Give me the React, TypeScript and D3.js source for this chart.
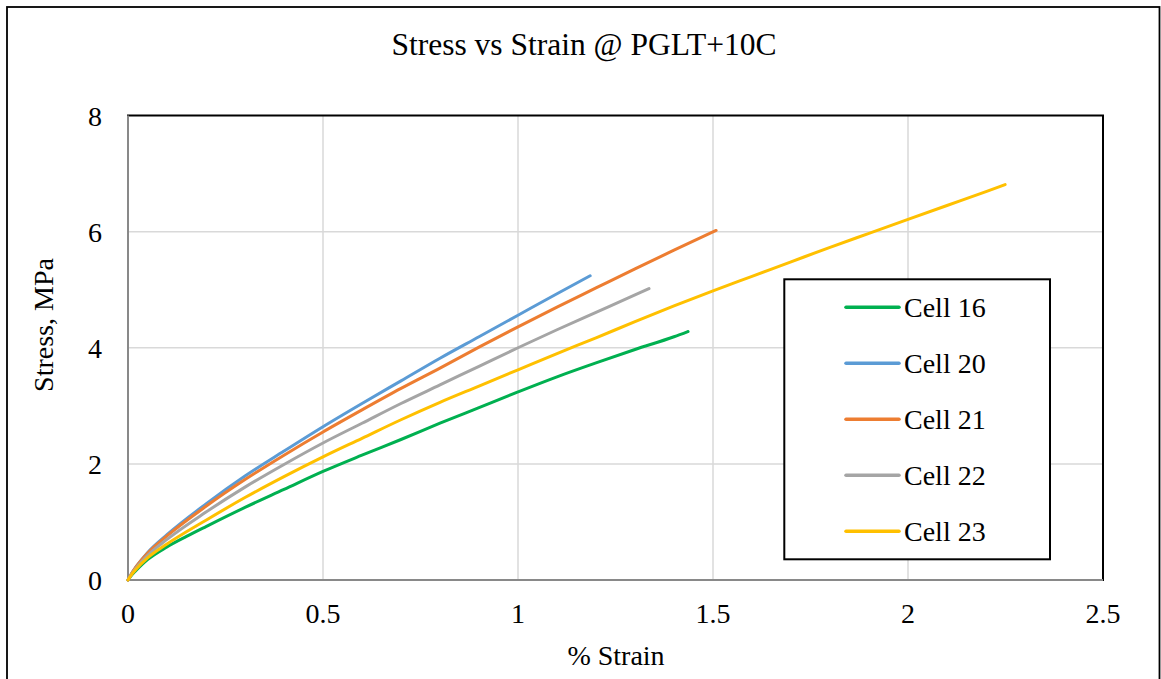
import React from "react";
import * as d3 from "d3";

const seriesNames = ["Cell 16", "Cell 20", "Cell 21", "Cell 22", "Cell 23"];
const seriesColors = ["#00b050", "#5b9bd5", "#ed7d31", "#a5a5a5", "#ffc000"];

const cell16Strain = [0, 0.01, 0.02, 0.05, 0.1, 0.15, 0.2, 0.3, 0.4, 0.5, 0.6, 0.7, 0.8, 0.9, 1.0, 1.1, 1.2, 1.3, 1.4, 1.436];
const cell16Stress = [0, 0.09, 0.16, 0.35, 0.57, 0.75, 0.92, 1.25, 1.56, 1.87, 2.15, 2.42, 2.7, 2.97, 3.24, 3.5, 3.74, 3.97, 4.19, 4.28];

const cell20Strain = [0, 0.01, 0.02, 0.05, 0.1, 0.2, 0.3, 0.4, 0.5, 0.6, 0.7, 0.8, 0.9, 1.0, 1.1, 1.185];
const cell20Stress = [0, 0.12, 0.22, 0.47, 0.78, 1.31, 1.79, 2.22, 2.64, 3.04, 3.43, 3.82, 4.19, 4.56, 4.93, 5.24];

const cell21Strain = [0, 0.01, 0.02, 0.05, 0.1, 0.2, 0.3, 0.4, 0.5, 0.6, 0.7, 0.8, 0.9, 1.0, 1.1, 1.2, 1.3, 1.4, 1.508];
const cell21Stress = [0, 0.12, 0.22, 0.46, 0.76, 1.27, 1.73, 2.15, 2.55, 2.93, 3.3, 3.65, 4.01, 4.36, 4.7, 5.03, 5.36, 5.68, 6.02];

const cell22Strain = [0, 0.01, 0.02, 0.05, 0.1, 0.2, 0.3, 0.4, 0.5, 0.6, 0.7, 0.8, 0.9, 1.0, 1.1, 1.2, 1.3, 1.336];
const cell22Stress = [0, 0.11, 0.2, 0.42, 0.7, 1.17, 1.6, 1.99, 2.36, 2.7, 3.04, 3.36, 3.68, 4.0, 4.31, 4.61, 4.91, 5.02];

const cell23Strain = [0, 0.01, 0.02, 0.05, 0.1, 0.2, 0.3, 0.4, 0.5, 0.6, 0.7, 0.8, 0.9, 1.0, 1.1, 1.2, 1.3, 1.4, 1.5, 1.6, 1.7, 1.8, 1.9, 2.0, 2.1, 2.2, 2.249];
const cell23Stress = [0, 0.1, 0.18, 0.38, 0.62, 1.03, 1.42, 1.78, 2.12, 2.44, 2.76, 3.06, 3.34, 3.62, 3.9, 4.17, 4.45, 4.72, 4.98, 5.23, 5.48, 5.73, 5.97, 6.21, 6.45, 6.69, 6.81];

const xTicks = [0, 0.5, 1, 1.5, 2, 2.5];
const yTicks = [0, 2, 4, 6, 8];

const allStrain = [cell16Strain, cell20Strain, cell21Strain, cell22Strain, cell23Strain];
const allStress = [cell16Stress, cell20Stress, cell21Stress, cell22Stress, cell23Stress];

const FONT = "Liberation Serif, Times New Roman, serif";

export default function App() {
  const W = 1161;
  const H = 679;
  const left = 128;
  const right = 1103;
  const top = 115.5;
  const bottom = 580;

  const x = d3.scaleLinear().domain([0, 2.5]).range([left, right]);
  const y = d3.scaleLinear().domain([0, 8]).range([bottom, top]);

  const line = d3
    .line<[number, number]>()
    .x((d) => x(d[0]))
    .y((d) => y(d[1]))
    .curve(d3.curveMonotoneX);

  const series = seriesNames.map((name, i) => ({
    name,
    color: seriesColors[i],
    pts: allStrain[i].map((s, j) => [s, allStress[i][j]] as [number, number]),
  }));

  const legX = 784.3;
  const legY = 279.3;
  const legW = 265.7;
  const legH = 280;

  return (
    <svg
      width={W}
      height={H}
      style={{ position: "absolute", left: 0, top: 0, background: "#fff" }}
    >
      <rect x={0} y={0} width={W} height={H} fill="#fff" />
      <rect x={7} y={7} width={1152.5} height={700} fill="none" stroke="#000" strokeWidth={1.8} />

      <text x={584} y={55} textAnchor="middle" fontSize={31.5} fill="#000" fontFamily={FONT}>
        Stress vs Strain @ PGLT+10C
      </text>

      {yTicks.filter((t) => t > 0 && t < 8).map((t) => (
        <line key={"gy" + t} x1={left} x2={right} y1={y(t)} y2={y(t)} stroke="#d9d9d9" strokeWidth={1.5} />
      ))}
      {xTicks.filter((t) => t > 0 && t < 2.5).map((t) => (
        <line key={"gx" + t} x1={x(t)} x2={x(t)} y1={top} y2={bottom} stroke="#d9d9d9" strokeWidth={1.5} />
      ))}

      <rect x={left} y={top} width={right - left} height={bottom - top} fill="none" stroke="#000" strokeWidth={2} />
      <line x1={left} x2={left} y1={top} y2={bottom} stroke="#898989" strokeWidth={2} />
      <line x1={left} x2={right} y1={bottom} y2={bottom} stroke="#898989" strokeWidth={2} />

      {series.map((s) => (
        <path key={s.name} d={line(s.pts) || ""} fill="none" stroke={s.color} strokeWidth={3} strokeLinejoin="round" strokeLinecap="round" />
      ))}

      {yTicks.map((t) => (
        <text key={"yt" + t} x={102} y={y(t) + 10} textAnchor="end" fontSize={28} fill="#000" fontFamily={FONT}>
          {t}
        </text>
      ))}
      {xTicks.map((t) => (
        <text key={"xt" + t} x={x(t)} y={623} textAnchor="middle" fontSize={28} fill="#000" fontFamily={FONT}>
          {t}
        </text>
      ))}

      <text x={616} y={665} textAnchor="middle" fontSize={28} fill="#000" fontFamily={FONT}>
        % Strain
      </text>
      <text transform={`translate(53,325) rotate(-90)`} textAnchor="middle" fontSize={28} fill="#000" fontFamily={FONT}>
        Stress, MPa
      </text>

      <rect x={legX} y={legY} width={legW} height={legH} fill="#fff" stroke="#000" strokeWidth={2} />
      {series.map((s, i) => {
        const ly = 307.3 + i * 56;
        return (
          <g key={"lg" + s.name}>
            <line x1={846} x2={899} y1={ly} y2={ly} stroke={s.color} strokeWidth={3.5} strokeLinecap="round" />
            <text x={904} y={ly + 9.5} fontSize={28} fill="#000" fontFamily={FONT}>
              {s.name}
            </text>
          </g>
        );
      })}
    </svg>
  );
}
